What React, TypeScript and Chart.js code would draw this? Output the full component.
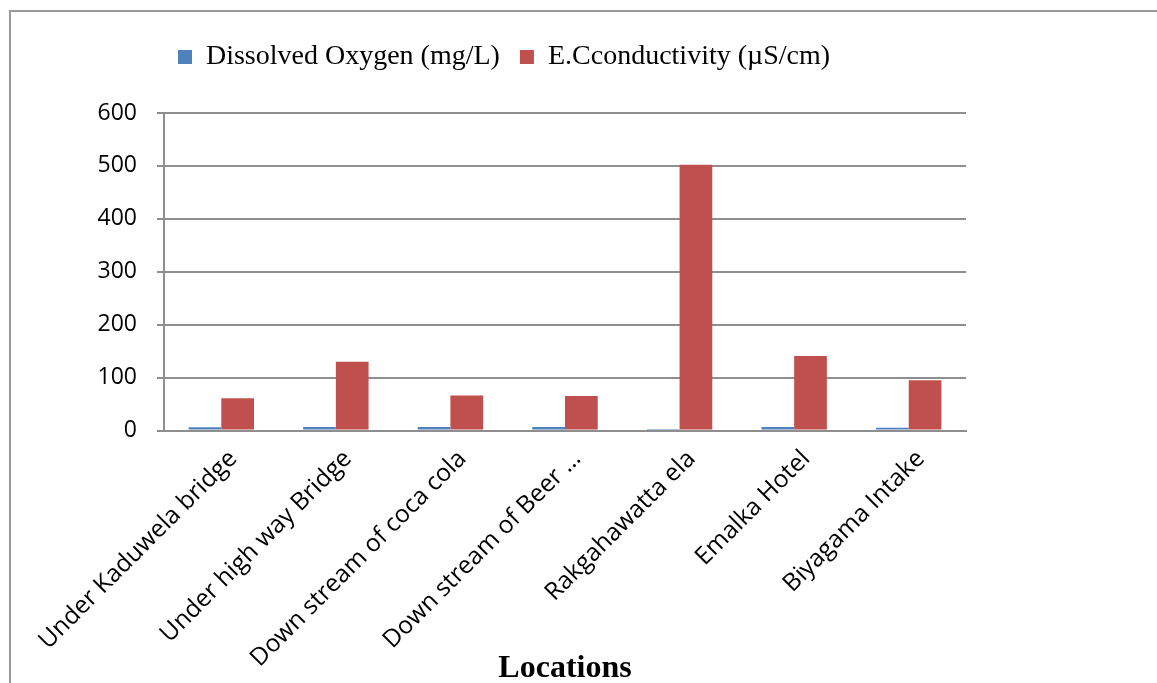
import React, { useEffect, useRef } from "react";
import { Chart, registerables } from "chart.js";

Chart.register(...registerables);

const locations = [
  "Under Kaduwela bridge",
  "Under high way Bridge",
  "Down stream of coca cola",
  "Down stream of Beer …",
  "Rakgahawatta ela",
  "Emalka Hotel",
  "Biyagama Intake",
];
const dissolvedOxygen = [6.2, 6.4, 6.6, 6.5, 2.8, 6.7, 5.3];
const conductivity = [61, 130, 66, 65, 502, 141, 95];
const yTicks = [0, 100, 200, 300, 400, 500, 600];

const GRID = "#8e8e8e";
const CANVAS_W = 1146;
const CANVAS_H = 673;

// Extra room between the legend row and the plot area.
const legendGap = {
  id: "legendGap",
  afterInit(chart: any) {
    const legend = chart.legend;
    if (!legend) return;
    const fit = legend.fit;
    legend.fit = function () {
      fit.call(this);
      this.height += 32;
    };
  },
};

export default function App() {
  const ref = useRef<HTMLCanvasElement | null>(null);

  useEffect(() => {
    if (!ref.current) return;
    const chart = new Chart(ref.current, {
      type: "bar",
      data: {
        labels: locations,
        datasets: [
          {
            label: "Dissolved Oxygen (mg/L)",
            data: dissolvedOxygen,
            backgroundColor: "#4F81BD",
            categoryPercentage: 0.571,
            barPercentage: 1,
          },
          {
            label: "E.Cconductivity (µS/cm)",
            data: conductivity,
            backgroundColor: "#C0504D",
            categoryPercentage: 0.571,
            barPercentage: 1,
          },
        ],
      },
      plugins: [legendGap],
      options: {
        responsive: false,
        animation: false,
        layout: { padding: { left: 31, right: 191, top: 11, bottom: 0 } },
        plugins: {
          tooltip: { enabled: false },
          legend: {
            position: "top",
            labels: {
              boxWidth: 14,
              boxHeight: 14,
              padding: 20,
              color: "#000",
              font: { family: "'Liberation Serif', serif", size: 28 },
            },
          },
        },
        scales: {
          x: {
            grid: { display: false, drawTicks: false },
            border: { display: true, color: GRID, width: 2 },
            ticks: {
              autoSkip: false,
              maxRotation: 45,
              minRotation: 45,
              padding: 14,
              labelOffset: 12,
              color: "#000",
              font: { family: "'Open Sans', sans-serif", size: 24.5 },
            },
            title: {
              display: true,
              text: "Locations",
              color: "#000",
              font: { family: "'Liberation Serif', serif", size: 32, weight: "bold", lineHeight: 1 },
              padding: { top: 0, bottom: 0 },
            },
            afterFit: (scale: any) => {
              scale.height = 254.5;
              scale.paddingLeft = 0;
              scale.paddingRight = 0;
            },
          },
          y: {
            min: 0,
            max: 600,
            afterBuildTicks: (scale: any) => {
              scale.ticks = yTicks.map((v) => ({ value: v }));
            },
            grid: { color: GRID, lineWidth: 2, tickLength: 7 },
            border: { display: true, color: GRID, width: 2 },
            ticks: {
              padding: 20,
              color: "#000",
              font: { family: "'Open Sans', sans-serif", size: 23 },
            },
            afterFit: (scale: any) => {
              scale.width = 122;
            },
          },
        },
      },
    });
    return () => chart.destroy();
  }, []);

  return (
    <div
      style={{
        position: "fixed",
        left: 0,
        top: 0,
        width: 1157,
        height: 683,
        overflow: "hidden",
        background: "#fff",
      }}
    >
      <div
        style={{
          position: "absolute",
          left: 9,
          top: 10,
          width: 1300,
          height: 800,
          border: "2px solid #9a9a9a",
        }}
      >
        <canvas ref={ref} width={CANVAS_W} height={CANVAS_H} style={{ display: "block" }} />
      </div>
    </div>
  );
}
